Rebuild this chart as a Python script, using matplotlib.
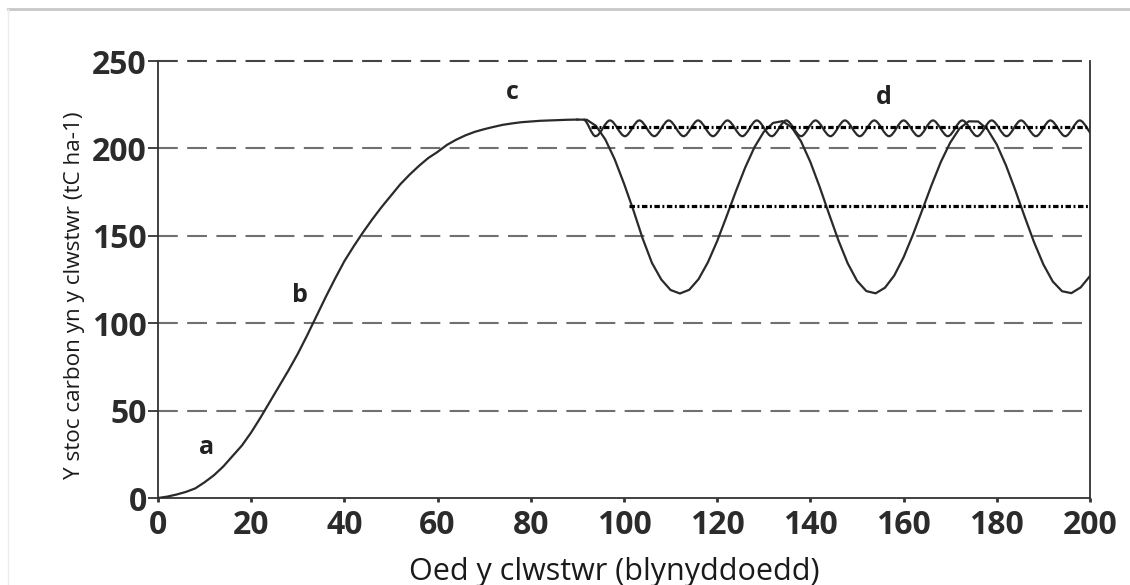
import matplotlib.pyplot as plt
from matplotlib.path import Path
from matplotlib.patches import PathPatch
from matplotlib.lines import Line2D

# growth of the stand up to age 90
growth_age = [0, 2, 4, 6, 8, 10, 12, 14, 16, 18, 20, 22, 24, 26, 28, 30, 32, 34, 36, 38,
              40, 42, 44, 46, 48, 50, 52, 54, 56, 58, 60, 62, 64, 66, 68, 70, 72, 74, 76,
              78, 80, 82, 84, 86, 88, 90]
growth_carbon = [0, 0.8, 2, 3.5, 5.5, 9, 13, 18, 24, 30, 37.5, 46, 55, 64, 73, 82.5, 93,
                 104, 115, 125.5, 135.5, 144, 152, 159.5, 166.5, 173, 179.5, 185, 190, 194.5,
                 198, 202, 205, 207.5, 209.5, 211, 212.3, 213.5, 214.3, 215, 215.4, 215.8,
                 216, 216.2, 216.4, 216.5]

# clearfell / replant cycle after age 90
cycle_age = [90, 92, 94, 96, 98, 100, 102, 104, 106, 108, 110, 112, 114, 116, 118, 120,
             122, 124, 126, 128, 130, 132, 134, 136, 138, 140, 142, 144, 146, 148, 150,
             152, 154, 156, 158, 160, 162, 164, 166, 168, 170, 172, 174, 176, 178, 180,
             182, 184, 186, 188, 190, 192, 194, 196, 198, 200]
cycle_carbon = [216.5, 216.4, 212.9, 205.1, 193.8, 179.9, 164.8, 148.5, 134.5, 125, 119,
                117, 119.1, 125.2, 134.8, 147, 161, 175.4, 189, 200.7, 209.5, 214.6, 215.6,
                212, 204, 192.2, 177.9, 162.5, 147.5, 134.3, 124.3, 118.4, 117.1, 120.3,
                127.3, 137.7, 150.6, 164.7, 179, 192.3, 203.3, 211.4, 215.5, 215.4, 210.9,
                202.2, 190.1, 175.9, 160.8, 146.3, 133.6, 123.9, 118.3, 117.2, 120.5, 127]

# continuous cover: turning points of the small wave
cc_age = [91.3, 93.9, 97.0, 100.2, 103.3, 106.5, 109.6, 112.8, 115.9, 119.1, 122.2, 125.4,
          128.5, 131.7, 134.8, 138.0, 141.1, 144.3, 147.4, 150.6, 153.7, 156.9, 160.0,
          163.2, 166.3, 169.5, 172.6, 175.8, 178.9, 182.1, 185.2, 188.4, 191.5, 194.7,
          197.8, 201.0]
cc_carbon = [216.5, 207] + [216, 207] * 17

# long term means
cc_mean, cc_mean_start = 212, 93
cycle_mean, cycle_mean_start = 167, 101

labels = ['a', 'b', 'c', 'd']
label_x = [10.5, 30.5, 76, 155.8]
label_y = [29, 116, 232, 229]

ink = '#2a2a2a'

fig = plt.figure(figsize=(11.3, 5.85), dpi=100)
ax = fig.add_axes([0.1398, 0.1487, 0.8248, 0.747])
ax.set_xlim(0, 200)
ax.set_ylim(0, 250)

# dashed horizontal guides
for v in [50, 100, 150, 200]:
    ax.axhline(v, color='#707070', lw=1.5, ls=(0, (9.5, 4.5)), zorder=1)
ax.axhline(250, color='#444444', lw=1.5, ls=(0, (9.5, 4.5)), zorder=1, clip_on=False)

ax.plot(growth_age, growth_carbon, color=ink, lw=1.6, zorder=3)
ax.plot(cycle_age, cycle_carbon, color=ink, lw=1.6, zorder=3)

# smooth wave through its turning points
verts = [(cc_age[0], cc_carbon[0])]
codes = [Path.MOVETO]
for i in range(len(cc_age) - 1):
    dx = cc_age[i + 1] - cc_age[i]
    verts += [(cc_age[i] + dx / 3, cc_carbon[i]),
              (cc_age[i + 1] - dx / 3, cc_carbon[i + 1]),
              (cc_age[i + 1], cc_carbon[i + 1])]
    codes += [Path.CURVE4] * 3
ax.add_patch(PathPatch(Path(verts, codes), fill=False, edgecolor=ink, lw=1.6, zorder=3))

dashdot = (0, (1.7, 0.8, 0.6, 0.8))
ax.plot([cc_mean_start, 200], [cc_mean, cc_mean], color='black', lw=2.3, ls=dashdot, zorder=4)
ax.plot([cycle_mean_start, 200], [cycle_mean, cycle_mean], color='black', lw=2.3,
        ls=dashdot, zorder=4)

for t, x, y in zip(labels, label_x, label_y):
    ax.text(x, y, t, ha='center', va='center', fontsize=18, fontweight='bold',
            family='Open Sans', color='#222222')

ax.spines['top'].set_visible(False)
for s in ['left', 'bottom', 'right']:
    ax.spines[s].set_color('#333333')
    ax.spines[s].set_linewidth(1.3)

ax.set_xticks(range(0, 201, 20))
ax.set_yticks(range(0, 251, 50))
ax.tick_params(axis='y', direction='out', length=7, width=1.3, pad=1, colors='#333333')
ax.tick_params(axis='x', direction='out', length=3, width=2, pad=5, colors='#333333')
for lab in ax.get_xticklabels() + ax.get_yticklabels():
    lab.set_fontfamily('Open Sans')
    lab.set_fontweight('bold')
    lab.set_fontsize(23)
    lab.set_color('#2b2b2b')

ax.set_xlabel('Oed y clwstwr (blynyddoedd)', family='Open Sans', fontsize=22,
              color='#1a1a1a')
ax.set_ylabel('Y stoc carbon yn y clwstwr (tC ha-1)', family='Open Sans', fontsize=16.2,
              color='#1a1a1a')
ax.xaxis.set_label_coords(0.49, -0.135)
ax.yaxis.set_label_coords(-0.078, 0.465)

# thin grey frame lines from the original screenshot
fig.add_artist(Line2D([8 / 1130, 1], [1 - 9 / 585, 1 - 9 / 585], transform=fig.transFigure,
                      color='#c8c8c8', lw=2))
fig.add_artist(Line2D([8 / 1130, 8 / 1130], [0, 1 - 9 / 585], transform=fig.transFigure,
                      color='#ececec', lw=1))

fig.savefig('out.png', dpi=100)
